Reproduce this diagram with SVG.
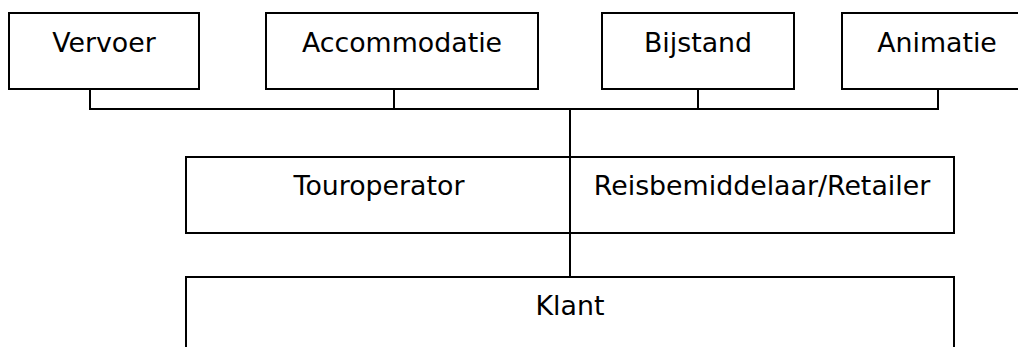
<svg xmlns="http://www.w3.org/2000/svg" width="1018" height="347" viewBox="0 0 1018 347">
  <style>
    .box { fill: #ffffff; stroke: #000000; stroke-width: 2; }
    .wire { fill: none; stroke: #000000; stroke-width: 2; }
    .label { font-family: "DejaVu Sans", Verdana, sans-serif; font-size: 26.8px; fill: #000000; text-anchor: middle; }
  </style>
  <rect width="1018" height="347" fill="#ffffff"/>

  <!-- connectors -->
  <g id="connectors">
    <path class="wire" d="M90,86 V109 H938 V86"/>
    <path class="wire" d="M394,86 V109"/>
    <path class="wire" d="M698,86 V109"/>
  </g>

  <!-- suppliers -->
  <g id="vervoer">
    <rect class="box" x="9" y="13" width="190" height="76"/>
    <text class="label" x="104" y="52">Vervoer</text>
  </g>
  <g id="accommodatie">
    <rect class="box" x="266" y="13" width="272" height="76"/>
    <text class="label" x="402" y="52">Accommodatie</text>
  </g>
  <g id="bijstand">
    <rect class="box" x="602" y="13" width="192" height="76"/>
    <text class="label" x="698" y="52">Bijstand</text>
  </g>
  <g id="animatie">
    <rect class="box" x="842" y="13" width="190" height="76"/>
    <text class="label" x="937" y="52">Animatie</text>
  </g>

  <!-- intermediaries -->
  <g id="intermediairs">
    <rect class="box" x="186" y="157" width="768" height="76"/>
    <text class="label" x="379" y="195">Touroperator</text>
    <text class="label" x="762" y="195">Reisbemiddelaar/Retailer</text>
  </g>

  <!-- customer -->
  <g id="klant">
    <rect class="box" x="186" y="277" width="768" height="80"/>
    <text class="label" x="570" y="315">Klant</text>
  </g>

  <!-- trunk from suppliers down to the customer, splitting the intermediaries -->
  <g id="trunk">
    <path class="wire" d="M570,109 V277"/>
  </g>
</svg>
